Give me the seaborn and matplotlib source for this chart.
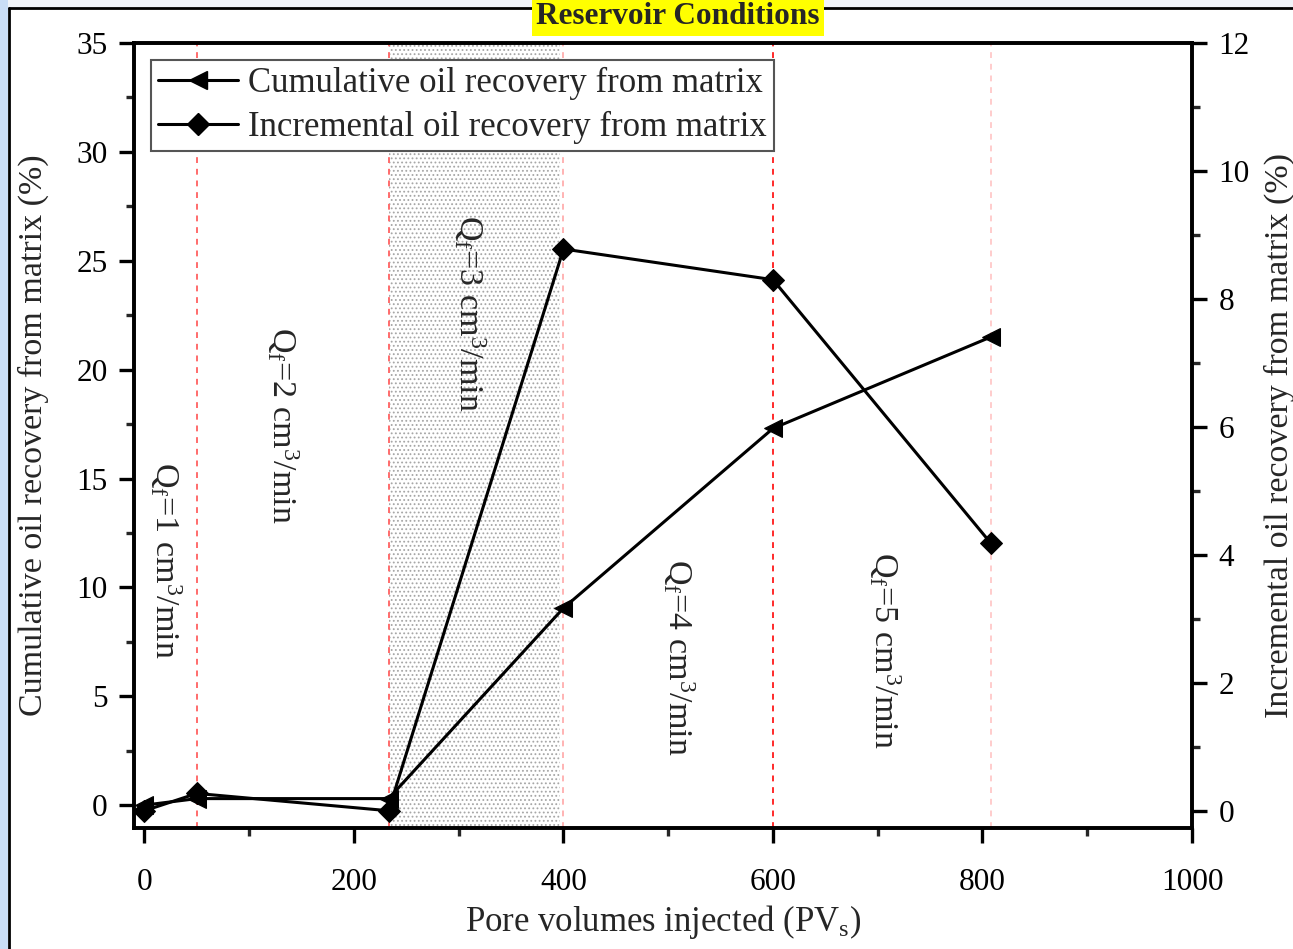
import matplotlib
matplotlib.use("Agg")
import matplotlib.pyplot as plt
import seaborn as sns
import pandas as pd
from matplotlib.patches import Rectangle
from matplotlib.lines import Line2D
from matplotlib.ticker import MultipleLocator

# Data
pv_injected = [0, 50, 233, 400, 600, 808]
cumulative_recovery = [0.0, 0.3, 0.3, 9.05, 17.3, 21.5]
incremental_recovery = [0.0, 0.27, 0.0, 8.78, 8.3, 4.18]

rate_boundaries = [50, 233, 400, 600, 808]
boundary_colors = ["#ff6b6b", "#ff6b6b", "#ffb3b3", "#ff2a2a", "#ffcccc"]
rate_labels = ["Q$_\\mathrm{f}$=1 cm$^3$/min", "Q$_\\mathrm{f}$=2 cm$^3$/min",
               "Q$_\\mathrm{f}$=3 cm$^3$/min", "Q$_\\mathrm{f}$=4 cm$^3$/min",
               "Q$_\\mathrm{f}$=5 cm$^3$/min"]
label_x = [20, 132, 311, 510, 707]
label_y = [11.25, 17.45, 22.6, 6.8, 7.1]

df = pd.DataFrame({"pv": pv_injected, "cum": cumulative_recovery, "inc": incremental_recovery})

sns.set_theme(style="ticks")
plt.rcParams["font.family"] = ["Liberation Serif", "DejaVu Serif"]
plt.rcParams["mathtext.fontset"] = "custom"
plt.rcParams["mathtext.rm"] = "Liberation Serif"
plt.rcParams["mathtext.it"] = "Liberation Serif:italic"
plt.rcParams["mathtext.bf"] = "Liberation Serif:bold"
plt.rcParams["hatch.linewidth"] = 0.8

fig = plt.figure(figsize=(12.93, 9.49), dpi=100)
fig.patch.set_facecolor("white")

# Window-style frame around the figure
fig.add_artist(Rectangle((0, 0), 8 / 1293, 1, transform=fig.transFigure,
                         facecolor="#c9ddf6", edgecolor="none", zorder=0))
fig.add_artist(Rectangle((8 / 1293, 1 - 8 / 949), 1, 8 / 949, transform=fig.transFigure,
                         facecolor="#f1f4f9", edgecolor="none", zorder=0))
fig.add_artist(Line2D([9 / 1293, 9 / 1293], [0, 1 - 8 / 949], transform=fig.transFigure,
                      color="black", lw=2, zorder=1))
fig.add_artist(Line2D([9 / 1293, 1], [1 - 8 / 949, 1 - 8 / 949], transform=fig.transFigure,
                      color="black", lw=2, zorder=1))

ax = fig.add_axes([134 / 1293, 1 - 828 / 949, (1192 - 134) / 1293, (828 - 43) / 949])
ax2 = ax.twinx()
ax2.set_zorder(ax.get_zorder() + 1)
ax2.patch.set_visible(False)

# Injection-rate stages
ax.axvspan(233, 397, facecolor="white", edgecolor="#a6a6a6", hatch="....", lw=0, zorder=0)
for xb, cb in zip(rate_boundaries, boundary_colors):
    ax.axvline(xb, color=cb, lw=1.4, ls=(0, (3, 3)), zorder=1)
for tx, ty, tl in zip(label_x, label_y, rate_labels):
    ax.text(tx, ty, tl, rotation=270, ha="center", va="center", fontsize=24.5, zorder=2)

sns.lineplot(data=df, x="pv", y="cum", ax=ax, color="black", marker="<", markersize=13,
             markeredgecolor="black", lw=2.2, zorder=5, legend=False)
sns.lineplot(data=df, x="pv", y="inc", ax=ax2, color="black", marker="D", markersize=11.5,
             markeredgecolor="black", lw=2.2, zorder=5, legend=False)

ax.set_xlim(-10, 1000)
ax.set_ylim(-1.05, 35)
ax2.set_ylim(-0.27, 12)

ax.xaxis.set_major_locator(MultipleLocator(200))
ax.xaxis.set_minor_locator(MultipleLocator(100))
ax.yaxis.set_major_locator(MultipleLocator(5))
ax.yaxis.set_minor_locator(MultipleLocator(2.5))
ax2.yaxis.set_major_locator(MultipleLocator(2))
ax2.yaxis.set_minor_locator(MultipleLocator(1))

for a in (ax, ax2):
    for sp in a.spines.values():
        sp.set_linewidth(2.6)
        sp.set_color("black")
    a.tick_params(which="major", direction="out", length=11, width=2.4, labelsize=22.5,
                  colors="black", pad=8)
    a.tick_params(which="minor", direction="out", length=6, width=2.4)
ax.tick_params(axis="x", pad=18)

ax.set_xlabel("Pore volumes injected (PV$_\\mathrm{s}$)", fontsize=25, labelpad=4)
ax.set_ylabel("Cumulative oil recovery from matrix (%)", fontsize=24.5, labelpad=20)
ax2.set_ylabel("Incremental oil recovery from matrix (%)", fontsize=24.5, labelpad=10)

handles = [
    Line2D([], [], color="black", lw=2.2, marker="<", markersize=13),
    Line2D([], [], color="black", lw=2.2, marker="D", markersize=11.5),
]
leg = ax2.legend(handles, ["Cumulative oil recovery from matrix",
                           "Incremental oil recovery from matrix"],
                 loc="upper left", bbox_to_anchor=(0.016, 0.978), fontsize=25,
                 frameon=True, fancybox=False, framealpha=1, edgecolor="#555555",
                 handlelength=2.3, handletextpad=0.3, borderpad=0.2, labelspacing=0.3,
                 borderaxespad=0)
leg.get_frame().set_linewidth(1.5)
leg.set_zorder(10)

fig.text(678 / 1293, 1 - 17 / 949, "Reservoir Conditions", ha="center", va="center",
         fontsize=22.5, fontweight="bold",
         bbox=dict(facecolor="#ffff00", edgecolor="none", pad=3), zorder=3)

fig.savefig("out.png", dpi=100)
